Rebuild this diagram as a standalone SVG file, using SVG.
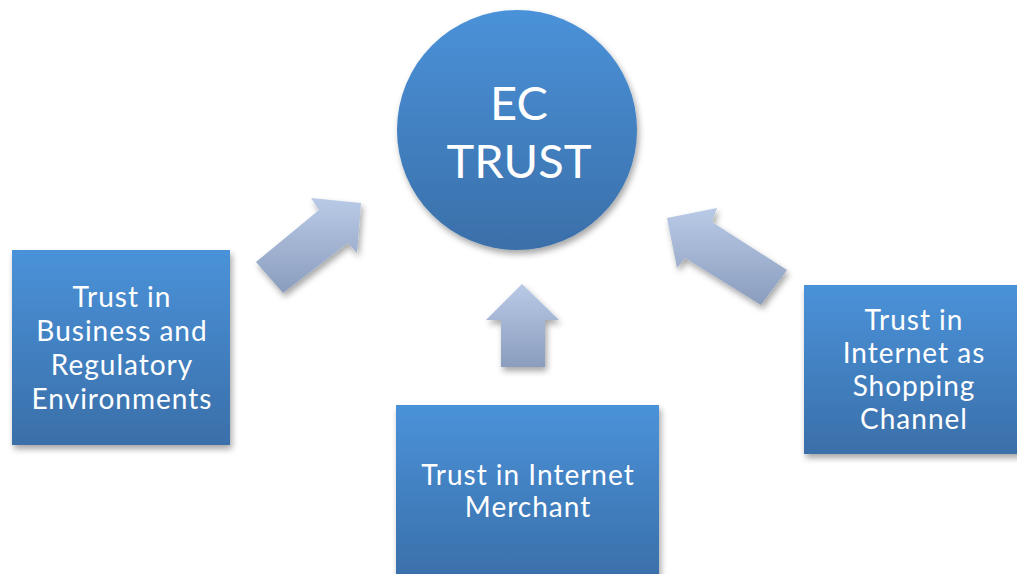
<svg xmlns="http://www.w3.org/2000/svg" width="1017" height="574" viewBox="0 0 1017 574">
<defs>
<linearGradient id="blue" x1="0" y1="0" x2="0" y2="1">
<stop offset="0" stop-color="#4a92d9"/>
<stop offset="1" stop-color="#3a6fa9"/>
</linearGradient>
<linearGradient id="arr" x1="0" y1="0" x2="0" y2="1">
<stop offset="0" stop-color="#b8cae6"/>
<stop offset="1" stop-color="#8b9dbd"/>
</linearGradient>
<filter id="sh" x="-20%" y="-20%" width="140%" height="140%">
<feDropShadow dx="2" dy="4" stdDeviation="3" flood-color="#000" flood-opacity="0.35"/>
</filter>
</defs>
<style>
.node{fill:url(#blue);filter:url(#sh)}
.arrow{fill:url(#arr);filter:url(#sh)}
text{font-family:Lato,"Open Sans","Liberation Sans",sans-serif;fill:#fff;text-anchor:middle}
.t{font-size:28px;letter-spacing:1px}
.big{font-size:47px}
</style>
<rect width="1017" height="574" fill="#fff"/>
<g id="connectors">
<polygon class="arrow" points="256,262 319,210 311,198 361,203 357,253 348,243 283,293"/>
<polygon class="arrow" points="522,284 559,320 545,320 545,367 501,367 501,320 486,320"/>
<polygon class="arrow" points="667,218 717,208 712,222 787,270 761,305 685,258 677,268"/>
</g>
<g id="ec-trust">
<circle class="node" cx="517" cy="130" r="120"/>
<text class="big" x="519" y="120">EC</text>
<text class="big" x="519" y="178">TRUST</text>
</g>
<g id="business">
<rect class="node" x="12" y="250" width="218" height="195"/>
<text class="t" x="122" y="307">Trust in</text>
<text class="t" x="122" y="341">Business and</text>
<text class="t" x="122" y="375">Regulatory</text>
<text class="t" x="122" y="409">Environments</text>
</g>
<g id="merchant">
<rect class="node" x="396" y="405" width="263" height="175"/>
<text class="t" x="528" y="485">Trust in Internet</text>
<text class="t" x="528" y="517">Merchant</text>
</g>
<g id="channel">
<rect class="node" x="804" y="285" width="220" height="169"/>
<text class="t" x="914" y="330">Trust in</text>
<text class="t" x="914" y="363">Internet as</text>
<text class="t" x="914" y="396">Shopping</text>
<text class="t" x="914" y="429">Channel</text>
</g>
</svg>
